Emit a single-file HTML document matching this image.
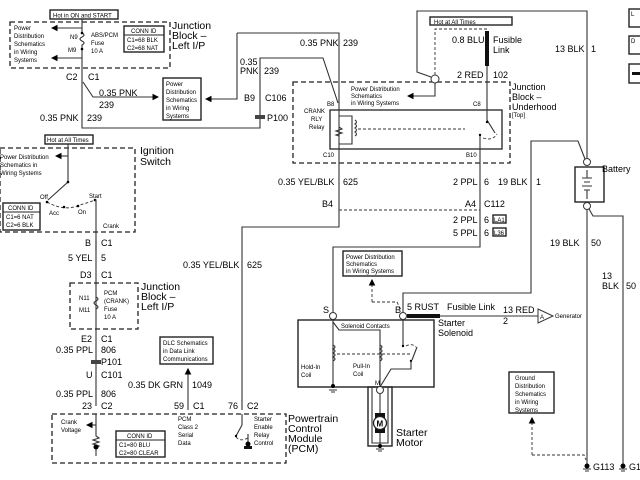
<!DOCTYPE html>
<html><head><meta charset="utf-8"><style>
html,body{margin:0;padding:0;background:#fff;width:640px;height:480px;overflow:hidden}
svg{display:block}
text{font-family:"Liberation Sans",sans-serif;fill:#000}
.s{font-size:6px}.m{font-size:9px}.l{font-size:10.5px}
.w{stroke:#333;stroke-width:1.1;fill:none}
.d{stroke:#222;stroke-width:1.3;fill:none;stroke-dasharray:5,3}
.dt{stroke:#333;stroke-width:0.9;fill:none;stroke-dasharray:3,2}
.b{stroke:#222;stroke-width:1.4;fill:#fff}
</style></head><body>
<svg width="640" height="480" viewBox="0 0 640 480" xmlns="http://www.w3.org/2000/svg">
<defs><marker id="a" markerWidth="6" markerHeight="6" refX="5" refY="3" orient="auto"><path d="M0,0 L6,3 L0,6 z" fill="#000"/></marker></defs>

<!-- Top-left Junction block -->
<rect x="50" y="10" width="68" height="9" class="b"/><text x="53" y="17.5" class="s">Hot in ON and START</text>
<rect x="10" y="22" width="160" height="46" class="d"/>
<text x="14" y="30" class="s">Power</text><text x="14" y="38" class="s">Distribution</text><text x="14" y="46" class="s">Schematics</text><text x="14" y="54" class="s">in Wiring</text><text x="14" y="62" class="s">Systems</text>
<path d="M82,19 V33 q4,2 0,4 q-4,2 0,4 q4,2 0,4 V82" class="w"/>
<path d="M82,28 H52" class="w" marker-end="url(#a)"/><path d="M82,58 H52" class="w" marker-end="url(#a)"/>
<circle cx="82" cy="33" r="1.3"/><circle cx="82" cy="49" r="1.3"/>
<text x="70" y="39" class="s">N9</text><text x="68" y="52" class="s">M9</text>
<text x="91" y="37" class="s">ABS/PCM</text><text x="91" y="45" class="s">Fuse</text><text x="91" y="53" class="s">10 A</text>
<rect x="124" y="26" width="40" height="26" class="b"/><line x1="124" y1="35" x2="164" y2="35" stroke="#222"/>
<text x="131" y="33" class="s">CONN ID</text><text x="127" y="42" class="s">C1=68 BLK</text><text x="127" y="50" class="s">C2=68 NAT</text>
<text x="172" y="29" class="l">Junction</text><text x="172" y="39" class="l">Block –</text><text x="172" y="49" class="l">Left I/P</text>
<text x="66" y="80" class="m">C2</text><text x="88" y="80" class="m">C1</text>
<path d="M83,82 L93,97 H158" class="w" marker-end="url(#a)"/>
<text x="99" y="96" class="m">0.35 PNK</text><text x="99" y="108" class="m">239</text>
<path d="M82,82 V128 H260 V58 H323 L338,103" class="w"/>
<text x="40" y="121" class="m">0.35 PNK</text><text x="87" y="121" class="m">239</text>
<rect x="163" y="78" width="38" height="42" class="b"/>
<text x="166" y="86" class="s">Power</text><text x="166" y="94" class="s">Distribution</text><text x="166" y="102" class="s">Schematics</text><text x="166" y="110" class="s">in Wiring</text><text x="166" y="118" class="s">Systems</text>
<path d="M237,33 V99 H206" class="w" marker-end="url(#a)"/>
<path d="M237,33 H339 V104" class="w"/>
<text x="240" y="65" class="m">0.35</text><text x="240" y="74" class="m">PNK</text><text x="264" y="74" class="m">239</text>
<text x="300" y="46" class="m">0.35 PNK</text><text x="343" y="46" class="m">239</text>
<text x="244" y="101" class="m">B9</text><text x="265" y="101" class="m">C106</text>
<rect x="255" y="115" width="10" height="4" fill="#444"/><text x="267" y="121" class="m">P100</text>

<!-- Underhood -->
<rect x="293" y="82" width="217" height="81" class="d"/>
<rect x="330" y="110" width="172" height="39" fill="none" stroke="#222" stroke-width="1.3"/>
<text x="304" y="113" class="s">CRANK</text><text x="311" y="121" class="s">RLY</text><text x="309" y="129" class="s">Relay</text>
<text x="327" y="106" class="s">B8</text><text x="473" y="106" class="s">C8</text><text x="323" y="157" class="s">C10</text><text x="466" y="157" class="s">B10</text>
<path d="M339,104 V160" class="w"/><path d="M339,116 H352 V144 H339" class="w"/>
<path d="M339,127 l3,2 -6,2 6,2 -6,2 3,1" class="w"/>
<path d="M355,120 q3,2 0,4 q3,2 0,4 q3,2 0,4 q3,2 0,4" class="w"/>
<path d="M358,129 H465" class="dt"/>
<path d="M487,66 V120 L495,133" class="w"/><circle cx="487" cy="122" r="1.2"/>
<path d="M480,135 V160" class="w"/><circle cx="480" cy="135" r="1.2"/>
<path d="M483,138 q10,3 14,-4" class="dt"/>
<text x="351" y="91" class="s">Power Distribution</text><text x="351" y="98" class="s">Schematics</text><text x="351" y="105" class="s">in Wiring Systems</text>
<path d="M435,83 V96 H408" class="w" marker-end="url(#a)"/>
<circle cx="435" cy="79" r="4" fill="#fff" stroke="#333"/>
<path d="M435,75 V29 H487" class="dt"/>
<path d="M431,77 L417,72 V11 H587 V158" class="w"/>
<rect x="430" y="17" width="82" height="8" class="b"/><text x="434" y="24" class="s">Hot at All Times</text>
<rect x="485" y="31" width="4" height="35" fill="#111"/>
<text x="452" y="43" class="m">0.8 BLU</text><text x="493" y="43" class="m">Fusible</text><text x="493" y="53" class="m">Link</text>
<text x="457" y="78" class="m">2 RED</text><text x="493" y="78" class="m">102</text>
<text x="512" y="90" class="m">Junction</text><text x="512" y="100" class="m">Block –</text><text x="512" y="110" class="m">Underhood</text><text x="512" y="117" class="s">[Top]</text>
<text x="555" y="52" class="m">13 BLK</text><text x="591" y="52" class="m">1</text>

<!-- Battery -->
<rect x="575" y="167" width="29" height="35" fill="none" stroke="#222" stroke-width="1.4"/>
<circle cx="587" cy="162" r="3.5" fill="#fff" stroke="#333"/><circle cx="587" cy="206" r="3.5" fill="#fff" stroke="#333"/>
<path d="M587,170 V178 M582,178 H592 M584,182 H590 M582,186 H592 M584,190 H590 M587,190 V199" class="w"/>
<text x="602" y="172" class="m">Battery</text>
<path d="M585,159 L578,141 H531 V293 H403 V312" class="w"/>
<path d="M587,210 V465" class="w"/><path d="M589,209 L593,216 H623 V465" class="w"/>
<text x="550" y="246" class="m">19 BLK</text><text x="591" y="246" class="m">50</text>
<text x="602" y="279" class="m">13</text><text x="602" y="289" class="m">BLK</text><text x="626" y="289" class="m">50</text>
<rect x="629" y="9" width="12" height="18" class="b"/><text x="631" y="16" class="s">L</text>
<rect x="629" y="36" width="12" height="18" class="b"/><text x="631" y="43" class="s">D</text>
<rect x="629" y="64" width="12" height="19" class="b"/><rect x="632" y="72" width="8" height="3" fill="#111"/>

<!-- C112 area -->
<text x="278" y="185" class="m">0.35 YEL/BLK</text><text x="343" y="185" class="m">625</text>
<text x="453" y="185" class="m">2 PPL</text><text x="484" y="185" class="m">6</text><text x="498" y="185" class="m">19 BLK</text><text x="536" y="185" class="m">1</text>
<text x="322" y="207" class="m">B4</text><text x="465" y="207" class="m">A4</text><text x="484" y="207" class="m">C112</text>
<path d="M339,210 H480" class="dt"/>
<path d="M339,160 V227 H242 V410" class="w"/>
<path d="M480,160 V247 H333 V312" class="w"/>
<text x="453" y="223" class="m">2 PPL</text><text x="484" y="223" class="m">6</text>
<rect x="493" y="215" width="13" height="8" class="b"/><text x="494" y="222" class="s">LA1</text>
<text x="453" y="236" class="m">5 PPL</text><text x="484" y="236" class="m">6</text>
<rect x="493" y="228" width="13" height="8" class="b"/><text x="494" y="235" class="s">L36</text>
<text x="183" y="268" class="m">0.35 YEL/BLK</text><text x="247" y="268" class="m">625</text>

<!-- Ignition switch -->
<rect x="45" y="135" width="48" height="9" class="b"/><text x="47" y="142" class="s">Hot at All Times</text>
<rect x="0" y="148" width="135" height="84" class="d"/>
<text x="0" y="159" class="s">Power Distribution</text><text x="0" y="167" class="s">Schematics in</text><text x="0" y="175" class="s">Wiring Systems</text>
<path d="M68,156 H56" class="w" marker-end="url(#a)"/>
<path d="M68,144 V182 L48,200" class="w"/><circle cx="68" cy="182" r="1.3"/>
<path d="M47,202 Q65,212 80,205 Q90,202 95,200" class="dt"/>
<circle cx="47" cy="202" r="1.3"/><circle cx="64" cy="207" r="1.3"/><circle cx="78" cy="206" r="1.3"/><circle cx="95" cy="200" r="1.3"/>
<text x="40" y="199" class="s">Off</text><text x="49" y="215" class="s">Acc</text><text x="78" y="214" class="s">On</text><text x="89" y="198" class="s">Start</text>
<path d="M95,200 H96 V251" class="w"/>
<text x="103" y="228" class="s">Crank</text>
<rect x="3" y="203" width="37" height="27" class="b"/><line x1="3" y1="212" x2="40" y2="212" stroke="#222"/>
<text x="8" y="210" class="s">CONN ID</text><text x="6" y="219" class="s">C1=6 NAT</text><text x="6" y="227" class="s">C2=6 BLK</text>
<text x="140" y="154" class="l">Ignition</text><text x="140" y="165" class="l">Switch</text>
<path d="M96,240 V406" class="w"/>
<text x="85" y="246" class="m">B</text><text x="101" y="246" class="m">C1</text>
<text x="68" y="261" class="m">5 YEL</text><text x="101" y="261" class="m">5</text>
<text x="80" y="278" class="m">D3</text><text x="101" y="278" class="m">C1</text>
<rect x="70" y="283" width="68" height="46" class="d"/>
<path d="M96,297 q4,2 0,4 q-4,2 0,4 q4,2 0,4" class="w" fill="#fff"/>
<text x="79" y="300" class="s">N11</text><text x="79" y="312" class="s">M11</text>
<text x="104" y="295" class="s">PCM</text><text x="104" y="303" class="s">(CRANK)</text><text x="104" y="311" class="s">Fuse</text><text x="104" y="319" class="s">10 A</text>
<text x="141" y="290" class="l">Junction</text><text x="141" y="300" class="l">Block –</text><text x="141" y="310" class="l">Left I/P</text>
<text x="81" y="342" class="m">E2</text><text x="101" y="342" class="m">C1</text>
<text x="56" y="353" class="m">0.35 PPL</text><text x="101" y="353" class="m">806</text>
<rect x="91" y="360" width="10" height="4" fill="#444"/><text x="101" y="365" class="m">P101</text>
<text x="86" y="378" class="m">U</text><text x="101" y="378" class="m">C101</text>
<text x="56" y="397" class="m">0.35 PPL</text><text x="101" y="397" class="m">806</text>
<text x="82" y="409" class="m">23</text><text x="101" y="409" class="m">C2</text>

<!-- PCM -->
<rect x="52" y="414" width="234" height="49" class="d"/>
<text x="61" y="424" class="s">Crank</text><text x="61" y="432" class="s">Voltage</text>
<path d="M96,425 H87" class="w" marker-end="url(#a)"/>
<path d="M96,414 V436 l3,2 -6,2 6,2 -6,2 6,2 -3,2 V456" class="w"/><circle cx="96" cy="447" r="2.5"/>
<rect x="116" y="431" width="49" height="26" class="b"/><line x1="116" y1="440" x2="165" y2="440" stroke="#222"/>
<text x="127" y="438" class="s">CONN ID</text><text x="119" y="447" class="s">C1=80 BLU</text><text x="119" y="455" class="s">C2=80 CLEAR</text>
<rect x="160" y="97" width="0" height="0"/>
<rect x="160" y="337" width="53" height="27" class="b"/>
<text x="163" y="345" class="s">DLC Schematics</text><text x="163" y="353" class="s">in Data Link</text><text x="163" y="361" class="s">Communications</text>
<path d="M188,410 V369" class="w" stroke-width="1.5" marker-end="url(#a)"/>
<text x="128" y="388" class="m">0.35 DK GRN</text><text x="192" y="388" class="m">1049</text>
<text x="174" y="409" class="m">59</text><text x="193" y="409" class="m">C1</text>
<text x="178" y="421" class="s">PCM</text><text x="178" y="429" class="s">Class 2</text><text x="178" y="437" class="s">Serial</text><text x="178" y="445" class="s">Data</text>
<text x="228" y="409" class="m">76</text><text x="247" y="409" class="m">C2</text>
<path d="M242,414 V425 L236,436" class="w"/><circle cx="236" cy="436" r="1.2"/>
<path d="M236,437 Q240,442 248,438" class="dt"/>
<path d="M248,434 V448" class="w"/><rect x="244" y="446" width="8" height="3" fill="#111"/><circle cx="248" cy="444" r="2.5"/>
<text x="254" y="421" class="s">Starter</text><text x="254" y="429" class="s">Enable</text><text x="254" y="437" class="s">Relay</text><text x="254" y="445" class="s">Control</text>
<text x="288" y="422" class="l">Powertrain</text><text x="288" y="432" class="l">Control</text><text x="288" y="442" class="l">Module</text><text x="288" y="452" class="l">(PCM)</text>

<!-- Starter solenoid -->
<rect x="343" y="251" width="59" height="25" class="b"/>
<text x="346" y="259" class="s">Power Distribution</text><text x="346" y="266" class="s">Schematics</text><text x="346" y="273" class="s">in Wiring Systems</text>
<path d="M372,302 V282" class="dt"/><path d="M372,284 V280" class="w" marker-end="url(#a)"/>
<path d="M372,302 H397 L401,310" class="dt"/>
<rect x="298" y="320" width="136" height="67" fill="none" stroke="#222" stroke-width="1.4"/>
<text x="323" y="313" class="m">S</text><text x="395" y="313" class="m">B</text>
<circle cx="333" cy="316" r="3.5" fill="#fff" stroke="#333"/><circle cx="403" cy="316" r="3.5" fill="#fff" stroke="#333"/>
<rect x="407" y="314" width="33" height="4" fill="#111"/>
<path d="M440,316 H538" class="w"/><path d="M538,309 L553,316 L538,323 z" fill="#fff" stroke="#333"/>
<text x="540" y="319" class="s">A</text><text x="555" y="318" class="s">Generator</text>
<text x="407" y="310" class="m">5 RUST</text><text x="447" y="310" class="m">Fusible Link</text>
<text x="503" y="313" class="m">13 RED</text><text x="503" y="324" class="m">2</text>
<text x="438" y="326" class="m">Starter</text><text x="438" y="336" class="m">Solenoid</text>
<text x="341" y="328" class="s">Solenoid Contacts</text>
<path d="M333,320 V386" class="w"/><circle cx="333" cy="386" r="2"/><path d="M329,390 H337 M331,392 H335" class="w"/>
<path d="M333,322 L339,330 H380 V386" class="w"/>
<path d="M333,345 q4,2 0,4 q4,2 0,4 q4,2 0,4 q4,2 0,4" class="w"/>
<path d="M380,345 q4,2 0,4 q4,2 0,4 q4,2 0,4 q4,2 0,4" class="w"/>
<path d="M337,354 H410" class="dt"/>
<path d="M403,320 V346" class="w"/><circle cx="403" cy="346" r="1.2"/>
<path d="M406,346 Q412,343 416,347" class="dt"/>
<path d="M417,347 L412,360" class="w"/><circle cx="411" cy="361" r="1.2"/>
<path d="M411,361 V369 H391 L380,387" class="w"/>
<text x="301" y="369" class="s">Hold-In</text><text x="301" y="377" class="s">Coil</text>
<text x="353" y="368" class="s">Pull-In</text><text x="353" y="376" class="s">Coil</text>
<text x="375" y="385" class="s">M</text>
<rect x="368" y="387" width="24" height="59" fill="none" stroke="#222" stroke-width="1.4"/>
<path d="M372,387 V443 H388 V387" class="w"/>
<circle cx="380" cy="390" r="3.5" fill="#fff" stroke="#333"/>
<path d="M380,394 V448" class="w"/>
<rect x="375" y="413" width="10" height="20" fill="#111"/>
<circle cx="380" cy="423" r="6.5" fill="#fff" stroke="#222" stroke-width="1.3"/>
<text x="376.5" y="426.5" style="font-size:8px;font-weight:bold">M</text>
<circle cx="380" cy="446" r="2"/><path d="M376,449 H384 M378,451 H382" class="w"/>
<text x="396" y="436" class="l">Starter</text><text x="396" y="446" class="l">Motor</text>

<!-- Ground distribution -->
<rect x="509" y="372" width="45" height="41" class="b"/>
<text x="515" y="380" class="s">Ground</text><text x="515" y="388" class="s">Distribution</text><text x="515" y="396" class="s">Schematics</text><text x="515" y="404" class="s">in Wiring</text><text x="515" y="412" class="s">Systems</text>
<path d="M532,455 V420" class="dt"/><path d="M532,422 V418" class="w" marker-end="url(#a)"/>
<path d="M532,455 H584 L586,460" class="dt"/>
<circle cx="587" cy="466" r="2.5"/><path d="M583,469 H591 M585,471 H589" class="w"/>
<text x="593" y="470" class="m">G113</text>
<circle cx="623" cy="466" r="2.5"/><path d="M619,469 H627 M621,471 H625" class="w"/>
<text x="629" y="470" class="m">G1</text>
</svg>
</body></html>
